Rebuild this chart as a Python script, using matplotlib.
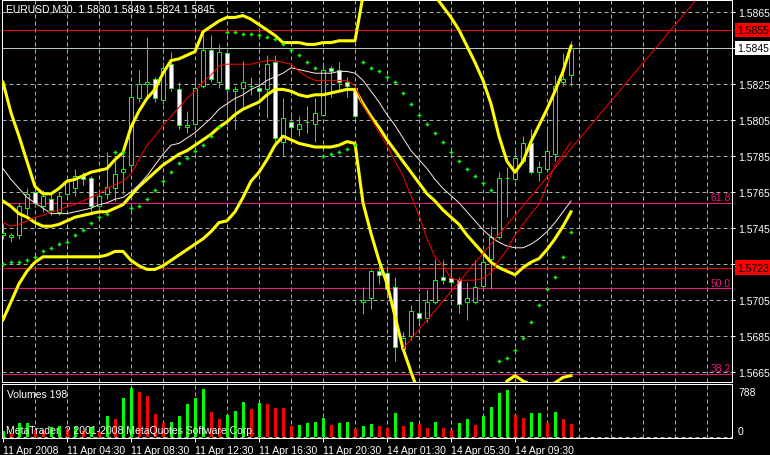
import numpy as np
import matplotlib
matplotlib.use("Agg")
import matplotlib.pyplot as plt

plt.rcParams['font.family'] = ['Liberation Sans', 'DejaVu Sans']

# EURUSD M30, 11 Apr 2008 00:30 .. 14 Apr 2008 11:00 (72 bars)
opens = [1.5741, 1.5740, 1.5741, 1.5756, 1.5765, 1.5757, 1.5761, 1.5754, 1.5764, 1.5767,
         1.5774, 1.5773, 1.5757, 1.5764, 1.5767, 1.5776, 1.5780, 1.5817, 1.5825, 1.5828,
         1.5816, 1.5836, 1.5822, 1.5801, 1.5803, 1.5824, 1.5844, 1.5826, 1.5842, 1.5821,
         1.5823, 1.5824, 1.5823, 1.5822, 1.5837, 1.5793, 1.5804, 1.5800, 1.5804, 1.5803,
         1.5808, 1.5834, 1.5833, 1.5826, 1.5823, 1.5704, 1.5706, 1.5721, 1.5720, 1.5712,
         1.5678, 1.5685, 1.5698, 1.5695, 1.5704, 1.5718, 1.5717, 1.5716, 1.5704, 1.5704,
         1.5713, 1.5728, 1.5740, 1.5773, 1.5772, 1.5782, 1.5792, 1.5776, 1.5778, 1.5786,
         1.5826, 1.5830]
highs = [1.5747, 1.5742, 1.5759, 1.5767, 1.5767, 1.5766, 1.5764, 1.5765, 1.5774, 1.5778,
         1.5776, 1.5774, 1.5766, 1.5787, 1.5782, 1.5787, 1.5824, 1.5833, 1.5851, 1.5829,
         1.5837, 1.5843, 1.5826, 1.5810, 1.5827, 1.5854, 1.5852, 1.5847, 1.5844, 1.5824,
         1.5838, 1.5829, 1.5828, 1.5841, 1.5841, 1.5817, 1.5809, 1.5807, 1.5813, 1.5817,
         1.5837, 1.5835, 1.5837, 1.5829, 1.5824, 1.5712, 1.5722, 1.5724, 1.5723, 1.5718,
         1.5687, 1.5702, 1.5709, 1.5711, 1.5728, 1.5727, 1.5726, 1.5718, 1.5715, 1.5727,
         1.5731, 1.5746, 1.5776, 1.5779, 1.5789, 1.5796, 1.5800, 1.5782, 1.5801, 1.5830,
         1.5842, 1.5849]
lows = [1.5739, 1.5737, 1.5739, 1.5752, 1.5757, 1.5754, 1.5752, 1.5752, 1.5762, 1.5763,
        1.5769, 1.5754, 1.5754, 1.5761, 1.5760, 1.5764, 1.5778, 1.5815, 1.5817, 1.5815,
        1.5814, 1.5821, 1.5800, 1.5798, 1.5802, 1.5823, 1.5826, 1.5823, 1.5802, 1.5800,
        1.5811, 1.5819, 1.5817, 1.5806, 1.5793, 1.5785, 1.5797, 1.5796, 1.5798, 1.5793,
        1.5807, 1.5818, 1.5822, 1.5818, 1.5806, 1.5697, 1.5700, 1.5714, 1.5708, 1.5671,
        1.5676, 1.5683, 1.5693, 1.5693, 1.5703, 1.5714, 1.5713, 1.5698, 1.5694, 1.5703,
        1.5711, 1.5711, 1.5739, 1.5751, 1.5771, 1.5781, 1.5775, 1.5771, 1.5777, 1.5782,
        1.5824, 1.5824]
closes = [1.5742, 1.5741, 1.5757, 1.5764, 1.5759, 1.5763, 1.5755, 1.5763, 1.5771, 1.5774,
          1.5772, 1.5757, 1.5763, 1.5768, 1.5775, 1.5778, 1.5818, 1.5825, 1.5826, 1.5817,
          1.5834, 1.5823, 1.5802, 1.5802, 1.5823, 1.5844, 1.5828, 1.5843, 1.5822, 1.5822,
          1.5826, 1.5824, 1.5821, 1.5836, 1.5795, 1.5806, 1.5801, 1.5803, 1.5804, 1.5809,
          1.5833, 1.5832, 1.5826, 1.5824, 1.5807, 1.5705, 1.5721, 1.5719, 1.5711, 1.5679,
          1.5684, 1.5699, 1.5695, 1.5704, 1.5716, 1.5716, 1.5715, 1.5703, 1.5706, 1.5712,
          1.5726, 1.5740, 1.5773, 1.5773, 1.5784, 1.5792, 1.5776, 1.5779, 1.5788, 1.5824,
          1.5828, 1.5845]
volumes = [94, 64, 213, 215, 109, 94, 154, 164, 124, 150,
           95, 160, 80, 317, 273, 585, 734, 675, 615, 347,
           213, 233, 317, 496, 585, 719, 377, 273, 332, 392,
           526, 422, 511, 496, 436, 432, 169, 184, 213, 228,
           288, 184, 213, 228, 124, 169, 198, 169, 139, 367,
           169, 228, 198, 139, 228, 139, 109, 213, 273, 184,
           317, 451, 660, 704, 332, 288, 362, 367, 213, 377,
           273, 198]

# Bollinger bands (yellow)
bb_upper = [1.5826, 1.5809, 1.5796, 1.5782, 1.5768, 1.5764, 1.5764, 1.5767, 1.5771, 1.5772,
            1.5774, 1.5776, 1.5777, 1.5778, 1.5783, 1.5787, 1.5801, 1.5810, 1.5817, 1.5822,
            1.5831, 1.5838, 1.5839, 1.5841, 1.5843, 1.5854, 1.5857, 1.5860, 1.5862, 1.5862,
            1.5863, 1.5861, 1.5858, 1.5855, 1.5852, 1.5848, 1.5848, 1.5848, 1.5847, 1.5847,
            1.5848, 1.5848, 1.5849, 1.5849, 1.5849, 1.5874, 1.5878, 1.5880, 1.5881, 1.5883,
            1.5886, 1.5888, 1.5888, 1.5882, 1.5874, 1.5868, 1.5862, 1.5855, 1.5846, 1.5837,
            1.5827, 1.5814, 1.5796, 1.5782, 1.5776, 1.5782, 1.5793, 1.5802, 1.5811, 1.5821,
            1.5832, 1.5846]
bb_mid = [1.5760, 1.5757, 1.5753, 1.5751, 1.5748, 1.5746, 1.5746, 1.5747, 1.5749, 1.5751,
          1.5752, 1.5753, 1.5754, 1.5754, 1.5756, 1.5758, 1.5763, 1.5768, 1.5772, 1.5776,
          1.5780, 1.5783, 1.5786, 1.5788, 1.5791, 1.5794, 1.5797, 1.5801, 1.5804, 1.5808,
          1.5811, 1.5813, 1.5815, 1.5819, 1.5822, 1.5822, 1.5821, 1.5819, 1.5818, 1.5819,
          1.5819, 1.5820, 1.5821, 1.5822, 1.5822, 1.5814, 1.5807, 1.5801, 1.5794, 1.5788,
          1.5782, 1.5776, 1.5770, 1.5764, 1.5760, 1.5755, 1.5751, 1.5747, 1.5741, 1.5736,
          1.5731, 1.5726, 1.5723, 1.5721, 1.5719, 1.5723, 1.5726, 1.5728, 1.5733, 1.5739,
          1.5746, 1.5754]
bb_lower = [1.5694, 1.5704, 1.5714, 1.5721, 1.5726, 1.5729, 1.5729, 1.5729, 1.5729, 1.5729,
            1.5729, 1.5729, 1.5729, 1.5730, 1.5732, 1.5732, 1.5727, 1.5724, 1.5722, 1.5722,
            1.5724, 1.5727, 1.5730, 1.5733, 1.5736, 1.5739, 1.5743, 1.5748, 1.5749, 1.5754,
            1.5762, 1.5771, 1.5776, 1.5783, 1.5791, 1.5796, 1.5794, 1.5792, 1.5791, 1.5790,
            1.5790, 1.5790, 1.5791, 1.5793, 1.5792, 1.5759, 1.5742, 1.5727, 1.5714, 1.5696,
            1.5678, 1.5665, 1.5653, 1.5647, 1.5646, 1.5642, 1.5641, 1.5638, 1.5636, 1.5634,
            1.5634, 1.5638, 1.5651, 1.5660, 1.5663, 1.5660, 1.5658, 1.5654, 1.5656, 1.5659,
            1.5662, 1.5663]
# moving averages: fast (red), slow (white)
ma_fast = [1.5748, 1.5746, 1.5747, 1.5749, 1.5751, 1.5752, 1.5754, 1.5755, 1.5757, 1.5758,
           1.5760, 1.5762, 1.5764, 1.5767, 1.5769, 1.5771, 1.5775, 1.5783, 1.5791, 1.5796,
           1.5802, 1.5807, 1.5812, 1.5817, 1.5821, 1.5826, 1.5830, 1.5835, 1.5836, 1.5836,
           1.5836, 1.5836, 1.5837, 1.5838, 1.5838, 1.5837, 1.5836, 1.5832, 1.5829, 1.5827,
           1.5827, 1.5827, 1.5827, 1.5827, 1.5824, 1.5813, 1.5806, 1.5798, 1.5791, 1.5782,
           1.5774, 1.5763, 1.5752, 1.5739, 1.5729, 1.5724, 1.5717, 1.5716, 1.5716, 1.5716,
           1.5717, 1.5720, 1.5727, 1.5733, 1.5741, 1.5747, 1.5753, 1.5758, 1.5769, 1.5780,
           1.5786, 1.5793]
ma_slow = [1.5778, 1.5772, 1.5767, 1.5762, 1.5759, 1.5756, 1.5753, 1.5753, 1.5753, 1.5754,
           1.5755, 1.5756, 1.5758, 1.5759, 1.5761, 1.5762, 1.5765, 1.5769, 1.5774, 1.5780,
           1.5786, 1.5791, 1.5792, 1.5795, 1.5798, 1.5802, 1.5806, 1.5811, 1.5814, 1.5817,
           1.5819, 1.5822, 1.5824, 1.5827, 1.5829, 1.5831, 1.5834, 1.5833, 1.5832, 1.5831,
           1.5831, 1.5831, 1.5832, 1.5832, 1.5831, 1.5827, 1.5821, 1.5815, 1.5808, 1.5802,
           1.5795, 1.5788, 1.5783, 1.5778, 1.5772, 1.5767, 1.5763, 1.5759, 1.5754, 1.5749,
           1.5744, 1.5740, 1.5737, 1.5735, 1.5734, 1.5734, 1.5736, 1.5739, 1.5743, 1.5748,
           1.5754, 1.5760]
# parabolic SAR
sar = [1.5725, 1.5726, 1.5726, 1.5727, 1.5729, 1.5732, 1.5734, 1.5736, 1.5737, 1.5741,
       1.5744, 1.5748, 1.5751, 1.5753, 1.5787, 1.5787, 1.5756, 1.5757, 1.5761, 1.5766,
       1.5771, 1.5776, 1.5781, 1.5784, 1.5788, 1.5791, 1.5796, 1.5801, 1.5854, 1.5854,
       1.5853, 1.5853, 1.5852, 1.5851, 1.5850, 1.5847, 1.5844, 1.5841, 1.5837, 1.5834,
       1.5785, 1.5786, 1.5787, 1.5789, 1.5791, 1.5837, 1.5834, 1.5832, 1.5829, 1.5826,
       1.5820, 1.5814, 1.5808, 1.5803, 1.5798, 1.5793, 1.5787, 1.5782, 1.5778, 1.5774,
       1.5770, 1.5766, 1.5671, 1.5673, 1.5677, 1.5684, 1.5693, 1.5702, 1.5711, 1.5718,
       1.5729, 1.5743]

time_label_bars = [0, 8, 16, 24, 32, 40, 48, 56, 64]
time_labels = ['11 Apr 2008', '11 Apr 04:30', '11 Apr 08:30', '11 Apr 12:30', '11 Apr 16:30',
               '11 Apr 20:30', '14 Apr 01:30', '14 Apr 05:30', '14 Apr 09:30']
price_levels = [1.5865, 1.5845, 1.5825, 1.5805, 1.5785, 1.5765, 1.5745, 1.5725,
                1.5705, 1.5685, 1.5665]
fib_names = ['61.8', '50.0', '38.2']
fib_prices = [1.57589, 1.57115, 1.56639]
red_lines = [1.5855, 1.5723]
bid = 1.5845
trend_bars = [50, 86.5]
trend_prices = [1.5678, 1.5871]
vol_max = 788

W, H = 770, 456
LIME = '#00ff00'
GRID = '#9db49d'
PINK = '#f0147c'
LW = 0.72  # one pixel
DASH = (0, (4, 3))
FS = 7.5


def fx(px):
    return px / W


def fy(py):
    return 1 - py / H


fig = plt.figure(figsize=(W / 100, H / 100), dpi=100, facecolor='black')
ax = fig.add_axes([fx(2), fy(383), 730 / W, 382 / H], facecolor='black')
vax = fig.add_axes([fx(2), fy(439), 730 / W, 54 / H], facecolor='black')

x = np.arange(len(opens))
o, h, l, c = map(np.array, (opens, highs, lows, closes))

ax.set_xlim(-0.125, 91.125)
ax.set_ylim(1.5659444, 1.5871667)
vax.set_xlim(-0.125, 91.125)
vax.set_ylim(-10, 793)

# grid
for b in range(4, 92, 4):
    ax.axvline(b, color=GRID, lw=LW, ls=DASH, zorder=0)
    vax.axvline(b, color=GRID, lw=LW, ls=DASH, zorder=0)
for p in price_levels:
    ax.axhline(p, color=GRID, lw=LW, ls=DASH, zorder=0)
vax.axhline(0, color=GRID, lw=LW, ls=DASH, zorder=0)

# horizontal objects
ax.axhline(bid, color='#b4c8b4', lw=LW, zorder=1)
for p in red_lines:
    ax.axhline(p, color='#ff0000', lw=LW, zorder=1)
for name, p in zip(fib_names, fib_prices):
    ax.axhline(p, color=PINK, lw=LW, zorder=1)
    ax.text(0.998, p + 0.00004, name, transform=ax.get_yaxis_transform(), ha='right',
            va='bottom', color=PINK, fontsize=FS)

# candles
ax.vlines(x, l, h, color=LIME, lw=LW, zorder=2)
bull = c >= o
ax.bar(x, np.abs(c - o), bottom=np.minimum(o, c), width=0.5,
       color=np.where(bull, 'black', 'white'), edgecolor=LIME, linewidth=LW, zorder=3)

# indicators
for band in (bb_upper, bb_mid, bb_lower):
    ax.plot(x, band, color='#ffff00', lw=2.2, zorder=4)
ax.plot(x, ma_slow, color='#ffe4e1', lw=LW, zorder=4)
ax.plot(x, ma_fast, color='#ff0000', lw=LW, zorder=4)
ax.plot(trend_bars, trend_prices, color='#ff0000', lw=LW, zorder=4)
ax.plot(x, sar, ls='none', marker='+', ms=3.5, mew=1, color=LIME, zorder=5)

# volumes, green when above the previous bar
vols = np.array(volumes)
vcol = [LIME] + [LIME if vols[i] > vols[i - 1] else '#ff0000' for i in range(1, len(vols))]
vax.bar(x, vols, width=0.375, color=vcol, zorder=2)

# axes styling
for a in (ax, vax):
    for s in a.spines.values():
        s.set_color('white')
        s.set_linewidth(LW)
ax.set_xticks([])
ax.set_yticks(price_levels)
ax.set_yticklabels(['' if p in (bid, 1.5725) else f'{p:.4f}' for p in price_levels])
ax.tick_params(axis='y', left=False, labelleft=False, right=True, labelright=True,
               colors='white', length=2.2, width=LW, labelsize=FS, pad=2)
vax.set_yticks([])
vax.set_xticks(time_label_bars)
vax.set_xticklabels(time_labels, ha='left')
vax.tick_params(axis='x', colors='white', length=3, width=LW, labelsize=FS, pad=2)

# price boxes on the right scale
box_x = 1 + 5.5 / 730
for p, fc, tc in ((1.5855, '#ff0000', 'black'), (bid, 'white', 'black'), (1.5723, '#ff0000', 'black')):
    ax.text(box_x, p, f'{p:.4f}', transform=ax.get_yaxis_transform(), ha='left', va='center',
            color=tc, fontsize=FS, clip_on=False, zorder=10,
            bbox=dict(boxstyle='square,pad=0.22', fc=fc, ec='none'))

# texts
fig.text(fx(6), fy(10), 'EURUSD,M30  1.5830 1.5849 1.5824 1.5845', color='white',
         fontsize=FS, va='center')
fig.text(fx(7), fy(395), f'Volumes {volumes[-1]}', color='white', fontsize=FS, va='center')
fig.text(fx(6), fy(431), 'MetaTrader, ? 2001-2008 MetaQuotes Software Corp.', color='white',
         fontsize=FS, va='center')
fig.text(fx(738), fy(393), str(vol_max), color='white', fontsize=FS, va='center')
fig.text(fx(738), fy(432), '0', color='white', fontsize=FS, va='center')

fig.savefig('out.png', dpi=100, facecolor='black')
